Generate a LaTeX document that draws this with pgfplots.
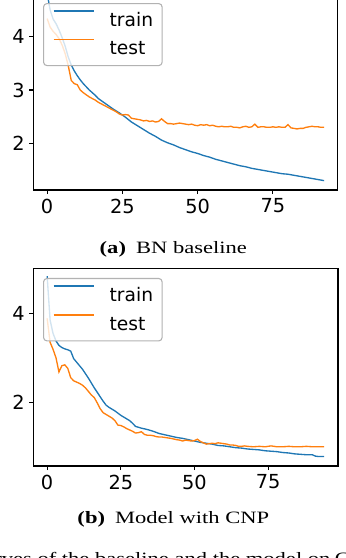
\documentclass[border=0pt]{standalone}
\usepackage{fontspec}
\setmainfont{DejaVu Sans}
\newfontfamily\capfont{Liberation Serif}
\usepackage{pgfplots}
\usepackage{pgfplotstable}
\pgfplotsset{compat=1.18}

\definecolor{tabblue}{HTML}{1F77B4}
\definecolor{taborange}{HTML}{FF7F0E}

% (a) BN baseline
\pgfplotstableread{
ep loss
0 4.82
1 4.50
2 4.33
3 4.24
4 4.12
5 3.98
6 3.82
7 3.62
8 3.47
9 3.36
10 3.27
11 3.19
12 3.12
13 3.06
14 3.00
15 2.95
16 2.90
17 2.84
18 2.80
19 2.76
20 2.72
22 2.64
24 2.57
26 2.49
28 2.40
30 2.33
32 2.26
34 2.19
36 2.13
38 2.06
40 2.01
42 1.97
44 1.92
46 1.88
48 1.84
50 1.81
52 1.77
54 1.74
56 1.70
58 1.67
60 1.64
62 1.61
64 1.58
66 1.56
68 1.53
70 1.51
72 1.49
74 1.47
76 1.45
78 1.43
80 1.42
82 1.40
84 1.38
86 1.36
88 1.34
90 1.32
92 1.30
}\trainA

\pgfplotstableread{
ep loss
0 4.34
1 4.18
2 4.10
3 4.04
4 3.96
5 3.84
6 3.68
7 3.46
8 3.18
9 3.12
10 3.10
11 3.00
12 2.95
13 2.91
14 2.87
15 2.84
16 2.81
17 2.77
18 2.74
19 2.71
20 2.68
21 2.65
22 2.62
23 2.59
24 2.55
25 2.53
26 2.54
27 2.53
28 2.47
29 2.46
30 2.45
31 2.44
32 2.42
33 2.43
34 2.41
35 2.42
36 2.40
37 2.41
38 2.46
39 2.41
40 2.37
41 2.37
42 2.36
43 2.37
44 2.38
45 2.37
46 2.36
47 2.35
48 2.36
49 2.34
50 2.33
51 2.35
52 2.34
53 2.35
54 2.33
55 2.34
56 2.32
57 2.31
58 2.32
59 2.31
60 2.31
61 2.32
62 2.30
63 2.30
64 2.29
65 2.31
66 2.32
67 2.30
68 2.31
69 2.36
70 2.30
71 2.31
72 2.31
73 2.30
74 2.30
75 2.31
76 2.30
77 2.31
78 2.30
79 2.30
80 2.35
81 2.29
82 2.28
83 2.27
84 2.28
85 2.28
86 2.30
87 2.31
88 2.32
89 2.31
90 2.31
91 2.30
92 2.30
}\testA

% (b) Model with CNP
\pgfplotstableread{
ep loss
0 4.84
1 3.85
2 3.55
3 3.38
4 3.28
5 3.23
6 3.20
7 3.18
8 3.15
9 2.98
10 2.90
11 2.82
12 2.74
13 2.64
14 2.54
15 2.43
16 2.32
17 2.22
18 2.12
19 2.02
20 1.93
21 1.88
22 1.84
23 1.80
24 1.75
25 1.70
26 1.66
27 1.62
28 1.58
29 1.52
30 1.45
32 1.41
34 1.38
36 1.34
38 1.29
40 1.26
42 1.23
44 1.20
46 1.18
48 1.15
50 1.12
52 1.09
54 1.07
56 1.05
58 1.02
60 1.01
62 0.99
64 0.97
66 0.96
68 0.94
70 0.93
72 0.92
74 0.90
76 0.89
78 0.88
80 0.86
82 0.85
84 0.83
86 0.82
88 0.81
90 0.81
91 0.78
92 0.77
94 0.77
}\trainB

\pgfplotstableread{
ep loss
0 3.89
1 3.35
2 3.19
3 3.00
4 2.68
5 2.82
6 2.84
7 2.76
8 2.55
9 2.48
10 2.45
11 2.42
12 2.38
13 2.32
14 2.24
15 2.16
16 2.10
17 1.98
18 1.85
19 1.76
20 1.72
21 1.68
22 1.64
23 1.58
24 1.48
25 1.47
26 1.44
27 1.40
28 1.37
29 1.34
30 1.30
31 1.31
32 1.33
33 1.27
34 1.25
35 1.25
36 1.24
37 1.22
38 1.21
39 1.21
40 1.20
42 1.18
44 1.15
45 1.14
46 1.12
47 1.14
48 1.13
49 1.12
50 1.13
51 1.16
52 1.11
53 1.08
54 1.05
55 1.06
56 1.07
57 1.06
58 1.08
59 1.07
60 1.06
61 1.05
62 1.03
63 1.03
64 1.02
65 1.00
66 1.00
67 1.01
68 1.00
70 0.99
72 1.00
74 0.99
76 1.01
77 1.00
78 0.99
80 0.99
82 1.00
84 0.99
86 0.99
88 1.00
90 0.99
92 0.99
94 0.99
}\testB

\pgfplotsset{
  lossaxis/.style={
    scale only axis,
    width=228.5pt,
    axis line style={line width=0.9pt},
    tick align=outside,
    major tick length=3pt,
    xtick pos=bottom,
    ytick pos=left,
    tick style={black, line width=0.8pt},
    xtick={0,25,50,75},
    ticklabel style={font=\fontsize{14.5}{17}\selectfont},
    /pgf/number format/assume math mode=true,
    legend cell align=left,
    legend style={
      draw=black!30, line width=0.8pt, rounded corners=2.5pt,
      fill=white, fill opacity=0.8, text opacity=1,
      anchor=north west,
      font=\fontsize{14}{17}\selectfont,
      inner xsep=6.75pt, inner ysep=5pt,
      row sep=6.2pt,
      nodes={inner xsep=0pt, inner ysep=0pt, text height=12pt, text depth=3pt},
    },
    every axis plot/.append style={line width=1pt},
  },
}

\begin{document}
\begin{tikzpicture}
% (a): the top of this panel is cut off in the reference, so no top spine
\begin{axis}[lossaxis,
  at={(24.975pt,-142.5pt)}, anchor=south west,
  height=142.5pt,
  separate axis lines,
  axis x line*=bottom, axis y line*=left,
  x axis line style={-}, y axis line style={-},
  xmin=-4.6, xmax=96.6, ymin=1.124, ymax=4.689,
  ytick={2,3,4},
  legend style={at={(0.032,0.984)}},
]
\draw[line width=0.9pt] (rel axis cs:1,0) -- (rel axis cs:1,1);
\addplot[tabblue, legend image code/.code={\draw[tabblue, line width=1.6pt] (0pt,7pt) -- (30pt,7pt); \path[draw=none] (30pt,7pt) -- (42pt,7pt);}] table[x=ep, y=loss] {\trainA};
\addlegendentry{train}
\addplot[taborange, legend image code/.code={\draw[taborange, line width=0.7pt] (0pt,7pt) -- (30pt,7pt); \path[draw=none] (30pt,7pt) -- (42pt,7pt);}] table[x=ep, y=loss] {\testA};
\addlegendentry{test}
\end{axis}

\node[anchor=base] at (130pt,-190pt)
  {\scalebox{1.3}[1]{\capfont\fontsize{13}{15}\selectfont\textbf{(a)}\hspace{0.45em}BN baseline}};

\begin{axis}[lossaxis,
  at={(24.975pt,-349.5pt)}, anchor=south west,
  height=148.3pt,
  xmin=-4.7, xmax=98.7, ymin=0.556, ymax=5.02,
  ytick={2,4},
  legend style={at={(0.032,0.951)}},
]
\addplot[tabblue, legend image code/.code={\draw[tabblue, line width=1.6pt] (0pt,7pt) -- (30pt,7pt); \path[draw=none] (30pt,7pt) -- (42pt,7pt);}] table[x=ep, y=loss] {\trainB};
\addlegendentry{train}
\addplot[taborange, legend image code/.code={\draw[taborange, line width=1.6pt] (0pt,7pt) -- (30pt,7pt); \path[draw=none] (30pt,7pt) -- (42pt,7pt);}] table[x=ep, y=loss] {\testB};
\addlegendentry{test}
\end{axis}

\node[anchor=base] at (130pt,-392.5pt)
  {\scalebox{1.3}[1]{\capfont\fontsize{13}{15}\selectfont\textbf{(b)}\hspace{0.45em}Model with CNP}};

% the next caption line of the page, cut off at the bottom edge
\begin{scope}
\clip (0pt,-405pt) rectangle (259.5pt,-418.5pt);
\node[anchor=base east, inner sep=0pt] at (248pt,-423pt)
  {\scalebox{1.3}[1]{\capfont\fontsize{13}{15}\selectfont Fig.~3: Loss curves of the baseline and the model on}};
\node[anchor=base west, inner sep=0pt] at (251pt,-423pt)
  {\scalebox{1.3}[1]{\capfont\fontsize{13}{15}\selectfont CIFAR-100}};
\end{scope}

\pgfresetboundingbox
\path[use as bounding box] (0pt,0pt) rectangle (259.5pt,-418.5pt);
\end{tikzpicture}
\end{document}
